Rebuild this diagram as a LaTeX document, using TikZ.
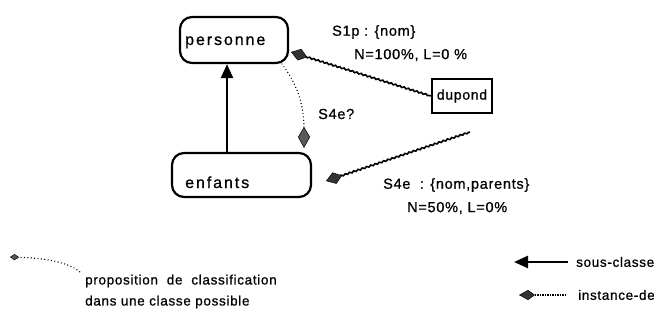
\documentclass[tikz,border=0pt]{standalone}
\usepackage{fontspec}
\setmainfont{Liberation Sans}[LetterSpace=5,FakeBold=0.8]
\usetikzlibrary{arrows.meta,decorations.pathmorphing,calc}
\begin{document}
\begin{tikzpicture}[x=1pt,y=-1pt,
  txt/.style={font=\fontsize{13.5}{16}\selectfont, inner sep=0pt},
  lab/.style={font=\fontsize{14.5}{17}\selectfont, inner sep=0pt},
  big/.style={font=\fontsize{16}{18}\selectfont\addfontfeatures{LetterSpace=12}, inner sep=0pt},
  rbox/.style={draw, line width=2.2pt, rounded corners=12pt, inner sep=0pt},
  sbox/.style={draw, line width=2.2pt, inner sep=0pt, font=\fontsize{14}{16}\selectfont},
  inst/.style={line width=1.6pt, decorate,
    decoration={snake, amplitude=0.7pt, segment length=4.5pt, post length=14pt, pre length=2pt},
    -{Kite[length=17pt,width=12pt,inset=8pt,fill=black!80,line width=0.5pt]}},
  subcl/.style={line width=2.4pt, -{Triangle[length=14pt,width=12pt]}},
  dotline/.style={line width=1.4pt, line cap=round, dash pattern=on 0pt off 3.4pt},
]
\useasboundingbox (0,0) rectangle (654,329);

% class boxes
\node[rbox, minimum width=108pt, minimum height=46pt] (personne) at (234,40) {};
\node[big, anchor=base west] (personneT) at (185,45) {personne};
\node[rbox, minimum width=139pt, minimum height=44pt] (enfants) at (241.5,175) {};
\node[big, anchor=base west] (enfantsT) at (185,188) {enfants};
\node[sbox, minimum width=60pt, minimum height=34pt] (dupond) at (462,96) {dupond};

% sub-class arrow
\draw[subcl] (enfants.north -| 227,0) -- (personne.south -| 227,0);

% instance arrows
\coordinate (pTip) at (291,52);
\draw[inst] (dupond.west) -- (pTip);
\coordinate (dStart) at (470,132);
\coordinate (eTip) at (326,181);
\draw[inst] (dStart) -- (eTip);

% classification proposal
\coordinate (sStart) at (282,64);
\coordinate (sTip) at (304,148);
\draw[dotline, -{Kite[length=21pt,width=12pt,inset=10pt,fill=black!65,line width=0.5pt]}] (sStart) .. controls (294,80) and (304,100) .. (sTip);

% labels
\node[lab, anchor=west] (l1) at (332,32) {S1p : \{nom\}};
\node[lab, anchor=west] (l2) at (354,55) {N=100\%, L=0 \%};
\node[lab, anchor=west] (l3) at (318,114) {S4e?};
\node[lab, anchor=west] (l4) at (383,185) {S4e \ : \{nom,parents\}};
\node[lab, anchor=west] (l5) at (407,208) {N=50\%, L=0\%};

% legend
\coordinate (g1) at (10,257);
\coordinate (g2) at (80,272);
\draw[dotline, {Kite[length=9pt,width=6pt,inset=4.5pt,fill=black!65,line width=0.5pt]}-] (g1) .. controls (45,258) and (68,262) .. (g2);
\node[txt, anchor=west] (g3) at (85,281) {proposition \ de \ classification};
\node[txt, anchor=west] (g4) at (85,302) {dans une classe possible};

\coordinate (s1) at (514,262);
\coordinate (s2) at (568,262);
\draw[subcl] (s2) -- (s1);
\node[txt, anchor=west] (s3) at (576,262) {sous-classe};

\coordinate (i1) at (519,295);
\coordinate (i2) at (566,295);
\draw[line width=1.5pt, dash pattern=on 1.5pt off 1pt, -{Kite[length=16pt,width=10pt,inset=7pt,fill=black!80,line width=0.5pt]}] (i2) -- (i1);
\node[txt, anchor=west] (i3) at (578,295) {instance-de};
\end{tikzpicture}
\end{document}
